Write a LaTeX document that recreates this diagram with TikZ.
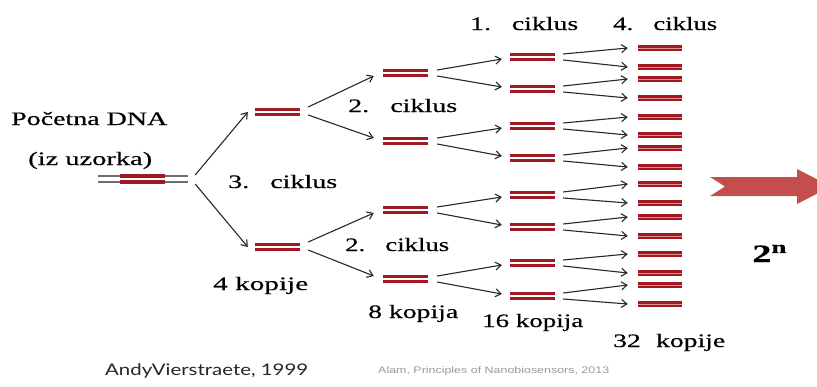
\documentclass[tikz,border=0pt]{standalone}
\usepackage{fontspec}
\setmainfont{Liberation Serif}[FakeBold=0.35]
\newfontfamily\sansA{Lato}
\newfontfamily\sansB{Liberation Sans}
\usetikzlibrary{arrows.meta}
\definecolor{dnared}{RGB}{160,24,34}
\definecolor{dnapink}{RGB}{225,140,145}
\definecolor{dnagray}{RGB}{110,110,110}
\definecolor{bigarrow}{RGB}{196,78,76}
\definecolor{arrgray}{RGB}{40,40,40}
\newcommand{\fw}[2]{\resizebox{#1}{\height}{#2}}
\begin{document}
\begin{tikzpicture}[x=1pt,y=-1pt,
  dnabox/.style={inner sep=0pt, minimum width=45pt, minimum height=6pt},
  dnaline/.style={draw=dnared, line width=2.9pt, double=white, double distance=1.6pt},
  dnaline4/.style={draw=dnared, line width=2.7pt, double=dnapink, double distance=0.8pt},
  arr/.style={draw=arrgray, line width=1.1pt, -{Straight Barb[length=5.5pt,width=8pt,line width=1.1pt]}},
  lbl/.style={inner sep=0pt, anchor=base west, font=\fontsize{19}{19}\selectfont},
]
\useasboundingbox (0,0) rectangle (817,386);

% generation 0
\node[dnabox, minimum width=90pt] (g0) at (143,179) {};
\draw[draw=dnagray, line width=2.2pt, double=white, double distance=3.8pt] (g0.west) -- (g0.east);
\node[dnabox] (g0r) at (142.5,179) {};
\draw[draw=dnared, line width=3.2pt, double=white, double distance=2.8pt] (g0r.west) -- (g0r.east);

% generation 1
\node[dnabox] (g1a) at (277.5,112) {};
\node[dnabox] (g1b) at (277.5,247) {};
% generation 2
\foreach \y [count=\i] in {73,141,210,279}
  \node[dnabox] (g2\i) at (405.5,\y) {};
% generation 3
\foreach \y [count=\i] in {57,89,126,158,195,227,263,296}
  \node[dnabox] (g3\i) at (532.5,\y) {};
% generation 4
\foreach \y [count=\i] in {48,67,79,98,117,135,148,167,184,203,217,236,254,273,285,304}
  \node[dnabox, minimum width=44pt] (g4\i) at (660,\y) {};

\foreach \n in {g1a,g1b,g21,g22,g23,g24,g31,g32,g33,g34,g35,g36,g37,g38}
  \draw[dnaline] (\n.west) -- (\n.east);
\foreach \i in {1,...,16}
  \draw[dnaline4] (g4\i.west) -- (g4\i.east);

% arrows 0 -> 1
\draw[arr] ([xshift=7pt,yshift=4pt]g0.east) -- ([xshift=-7pt]g1a.west);
\draw[arr] ([xshift=7pt,yshift=-5pt]g0.east) -- ([xshift=-7pt]g1b.west);
% arrows 1 -> 2
\draw[arr] ([xshift=8pt,yshift=5pt]g1a.east) -- ([xshift=-9pt,yshift=-3pt]g21.west);
\draw[arr] ([xshift=8pt,yshift=-3pt]g1a.east) -- ([xshift=-9pt,yshift=3pt]g22.west);
\draw[arr] ([xshift=8pt,yshift=5pt]g1b.east) -- ([xshift=-9pt,yshift=-3pt]g23.west);
\draw[arr] ([xshift=8pt,yshift=-3pt]g1b.east) -- ([xshift=-9pt,yshift=3pt]g24.west);
% arrows 2 -> 3
\foreach \i in {1,...,4}{
  \pgfmathtruncatemacro{\a}{2*\i-1}
  \pgfmathtruncatemacro{\b}{2*\i}
  \draw[arr] ([xshift=9pt,yshift=3pt]g2\i.east) -- ([xshift=-8pt,yshift=-2pt]g3\a.west);
  \draw[arr] ([xshift=9pt,yshift=-3pt]g2\i.east) -- ([xshift=-8pt,yshift=2pt]g3\b.west);
}
% arrows 3 -> 4
\foreach \i in {1,...,8}{
  \pgfmathtruncatemacro{\a}{2*\i-1}
  \pgfmathtruncatemacro{\b}{2*\i}
  \draw[arr] ([xshift=8pt,yshift=3pt]g3\i.east) -- ([xshift=-10pt]g4\a.west);
  \draw[arr] ([xshift=8pt,yshift=-3pt]g3\i.east) -- ([xshift=-10pt]g4\b.west);
}

% labels
\node[lbl] (tpoc) at (11,125) {\fw{156pt}{Početna DNA}};
\node[lbl] (tiz) at (28,165) {\fw{124pt}{(iz uzorka)}};
\node[lbl] (c3) at (228,188) {\fw{109pt}{3.\hspace{0.75em}ciklus}};
\node[lbl] (c2a) at (348,112) {\fw{109pt}{2.\hspace{0.75em}ciklus}};
\node[lbl] (c2b) at (345,251) {\fw{104pt}{2.\hspace{0.75em}ciklus}};
\node[lbl] (c1) at (470,30) {\fw{108pt}{1.\hspace{0.75em}ciklus}};
\node[lbl] (c4) at (613,30) {\fw{104pt}{4.\hspace{0.75em}ciklus}};
\node[lbl] (k4) at (213,290) {\fw{95pt}{4 kopije}};
\node[lbl] (k8) at (368,318) {\fw{90pt}{8 kopija}};
\node[lbl] (k16) at (482,327) {\fw{101pt}{16 kopija}};
\node[lbl] (k32) at (613,347) {\fw{112pt}{32\hspace{0.55em}kopije}};

% big arrow
\begin{scope}
\clip (0,0) rectangle (817,386);
\fill[bigarrow] (710,177) -- (797,177) -- (797,169) -- (831,186.5) -- (797,204) -- (797,196) -- (710,196) -- (725,186.5) -- cycle;
\end{scope}
\node[inner sep=0pt, anchor=base west, font=\fontsize{25}{25}\selectfont] (pow) at (752,262) {\fw{35pt}{\textbf{2}\textsuperscript{\textbf{n}}}};

% credits
\node[inner sep=0pt, anchor=base west, font=\sansA\fontsize{16}{16}\selectfont, text=black!85] (andy) at (105,375) {\fw{203pt}{AndyVierstraete, 1999}};
\node[inner sep=0pt, anchor=base west, font=\sansB\fontsize{9.5}{9.5}\selectfont, text=black!40] (alam) at (378,373) {\fw{231pt}{Alam, Principles of Nanobiosensors, 2013}};
\end{tikzpicture}
\end{document}
